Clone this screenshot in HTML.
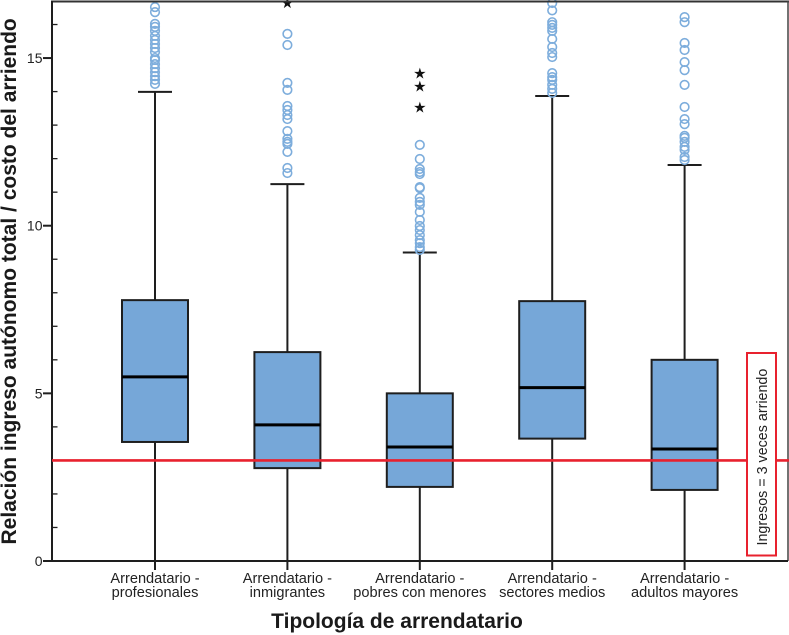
<!DOCTYPE html>
<html lang="es">
<head>
<meta charset="utf-8">
<title>Relación ingreso autónomo total / costo del arriendo</title>
<style>
html,body{margin:0;padding:0;background:#fff;}
body{width:789px;height:635px;overflow:hidden;}
svg{display:block;font-family:"Liberation Sans",Arial,sans-serif;}
</style>
</head>
<body>
<svg id="chart" xmlns="http://www.w3.org/2000/svg" width="789" height="635" viewBox="0 0 789 635">
  <defs>
    <clipPath id="plot-clip"><rect x="52" y="0" width="737" height="562"/></clipPath>
  </defs>
  <rect x="0" y="0" width="789" height="635" fill="#fff"/>
  <g id="marks" clip-path="url(#plot-clip)"></g>
  <g id="axes"></g>
  <line id="refline" x1="52" x2="789" stroke="#e8212e" stroke-width="2.6"/>
  <rect x="747" y="353" width="29" height="202.5" fill="#fff" stroke="#e8212e" stroke-width="2"/>
  <text transform="translate(767,545.5) rotate(-90)" font-size="14.3" fill="#222">Ingresos = 3 veces arriendo</text>
  <text transform="translate(16,544.5) rotate(-90)" font-size="21" font-weight="bold" fill="#1a1a1a">Relación ingreso autónomo total / costo del arriendo</text>
  <text x="397" y="628" text-anchor="middle" font-size="21" font-weight="bold" fill="#1a1a1a">Tipología de arrendatario</text>
</svg>
<script>
const categoryLine1 = ["Arrendatario -", "Arrendatario -", "Arrendatario -", "Arrendatario -", "Arrendatario -"];
const categoryLine2 = ["profesionales", "inmigrantes", "pobres con menores", "sectores medios", "adultos mayores"];
const q1Values = [3.55, 2.77, 2.21, 3.65, 2.12];
const medianValues = [5.49, 4.06, 3.40, 5.17, 3.34];
const q3Values = [7.78, 6.23, 5.00, 7.75, 6.00];
const whiskerLow = [0, 0, 0, 0, 0];
const whiskerHigh = [13.99, 11.24, 9.20, 13.87, 11.81];
const outliers1 = [16.52, 16.37, 16.02, 15.93, 15.81, 15.66, 15.54, 15.42, 15.30, 15.18, 15.00, 14.94, 14.82, 14.70, 14.58, 14.46, 14.35, 14.23];
const outliers2 = [15.72, 15.39, 14.26, 14.05, 13.57, 13.45, 13.30, 13.18, 12.82, 12.59, 12.50, 12.44, 12.20, 11.72, 11.57];
const outliers3 = [12.41, 11.99, 11.69, 11.60, 11.54, 11.15, 11.12, 10.83, 10.71, 10.62, 10.41, 10.17, 9.99, 9.87, 9.72, 9.57, 9.48, 9.36, 9.28];
const outliers4 = [16.64, 16.42, 16.07, 15.99, 15.90, 15.81, 15.57, 15.33, 15.15, 15.03, 14.55, 14.43, 14.35, 14.20, 14.08, 13.96];
const outliers5 = [16.22, 16.07, 15.45, 15.24, 14.88, 14.64, 14.20, 13.54, 13.18, 13.03, 12.68, 12.62, 12.50, 12.35, 12.26, 12.05, 11.96];
const extremes1 = [];
const extremes2 = [16.65];
const extremes3 = [14.55, 14.17, 13.54];
const extremes4 = [];
const extremes5 = [];
const majorTicks = [0, 5, 10, 15];
const majorTickLabels = ["0", "5", "10", "15"];
const minorTicks = [1, 2, 3, 4, 6, 7, 8, 9, 11, 12, 13, 14, 16];
const referenceValue = [3];

const allOutliers = [outliers1, outliers2, outliers3, outliers4, outliers5];
const allExtremes = [extremes1, extremes2, extremes3, extremes4, extremes5];

const NS = 'http://www.w3.org/2000/svg';
function yScale(v) { return 561 - v * 33.53; }
function xScale(i) { return 155 + i * 132.4; }
function make(parent, tag, attrs) {
  const el = document.createElementNS(NS, tag);
  for (const k in attrs) el.setAttribute(k, attrs[k]);
  parent.appendChild(el);
  return el;
}
const marks = document.getElementById('marks');
const axes = document.getElementById('axes');
const INK = '#1e1e1e';
const BOX_HALF = 33;
const CAP_HALF = 17;

categoryLine1.forEach(function (_, i) {
  const cx = xScale(i);
  const whisker = make(marks, 'line', { x1: cx, x2: cx, y1: yScale(whiskerLow[i]), y2: yScale(whiskerHigh[i]), stroke: INK, 'stroke-width': 2 });
  
  
  const cap = make(marks, 'line', { x1: cx - CAP_HALF, x2: cx + CAP_HALF, y1: yScale(whiskerHigh[i]), y2: yScale(whiskerHigh[i]), stroke: INK, 'stroke-width': 2 });
  
  
  const box = make(marks, 'rect', { x: cx - BOX_HALF, width: BOX_HALF * 2, y: yScale(q3Values[i]), height: yScale(q1Values[i]) - yScale(q3Values[i]), fill: '#76a7d8', stroke: INK, 'stroke-width': 2 });
  
  
  const med = make(marks, 'line', { x1: cx - BOX_HALF, x2: cx + BOX_HALF, y1: yScale(medianValues[i]), y2: yScale(medianValues[i]), stroke: '#000', 'stroke-width': 3 });
  
  
  allOutliers[i].forEach(function (v) {
    const c = make(marks, 'circle', { cx: cx, cy: yScale(v), r: 4.3, fill: 'none', stroke: '#7dadDc', 'stroke-width': 1.6 });
    
    
  });
  allExtremes[i].forEach(function (v) {
    const s = make(marks, 'text', { x: cx, y: yScale(v) + 5.5, 'text-anchor': 'middle', 'font-size': 15, fill: '#111', 'font-family': '"DejaVu Sans",sans-serif' });
    s.textContent = '★';
    
    
  });
  const tick = make(axes, 'line', { x1: cx, x2: cx, y1: 561, y2: 570, stroke: INK, 'stroke-width': 2 });
  
  
  const l1 = make(axes, 'text', { x: cx, y: 583, 'text-anchor': 'middle', 'font-size': 14.6, fill: '#222' });
  l1.textContent = categoryLine1[i];
  
  
  const l2 = make(axes, 'text', { x: cx, y: 597, 'text-anchor': 'middle', 'font-size': 14.6, fill: '#222' });
  l2.textContent = categoryLine2[i];
  
  
});

majorTicks.forEach(function (v, i) {
  const t = make(axes, 'line', { x1: 43, x2: 52, y1: yScale(v), y2: yScale(v), stroke: INK, 'stroke-width': 2 });
  
  
  const l = make(axes, 'text', { x: 42.5, y: yScale(v) + 5, 'text-anchor': 'end', 'font-size': 14, fill: '#222' });
  l.textContent = majorTickLabels[i];
  
  
});
minorTicks.forEach(function (v) {
  const t = make(axes, 'line', { x1: 52, x2: 57.5, y1: yScale(v), y2: yScale(v), stroke: INK, 'stroke-width': 1.3 });
  
  
});

const frameTop = make(axes, 'line', { x1: 51, x2: 789, y1: 1.5, y2: 1.5, stroke: '#333', 'stroke-width': 2 });


const frameRight = make(axes, 'line', { x1: 788, x2: 788, y1: 1, y2: 561, stroke: '#444', 'stroke-width': 1.5 });


const axisY = make(axes, 'line', { x1: 52, x2: 52, y1: 1, y2: 562, stroke: INK, 'stroke-width': 2 });


const axisX = make(axes, 'line', { x1: 51, x2: 788, y1: 561, y2: 561, stroke: INK, 'stroke-width': 2 });



const ref = document.getElementById('refline');
ref.setAttribute('y1', yScale(referenceValue[0]));
ref.setAttribute('y2', yScale(referenceValue[0]));
</script>
</body>
</html>
